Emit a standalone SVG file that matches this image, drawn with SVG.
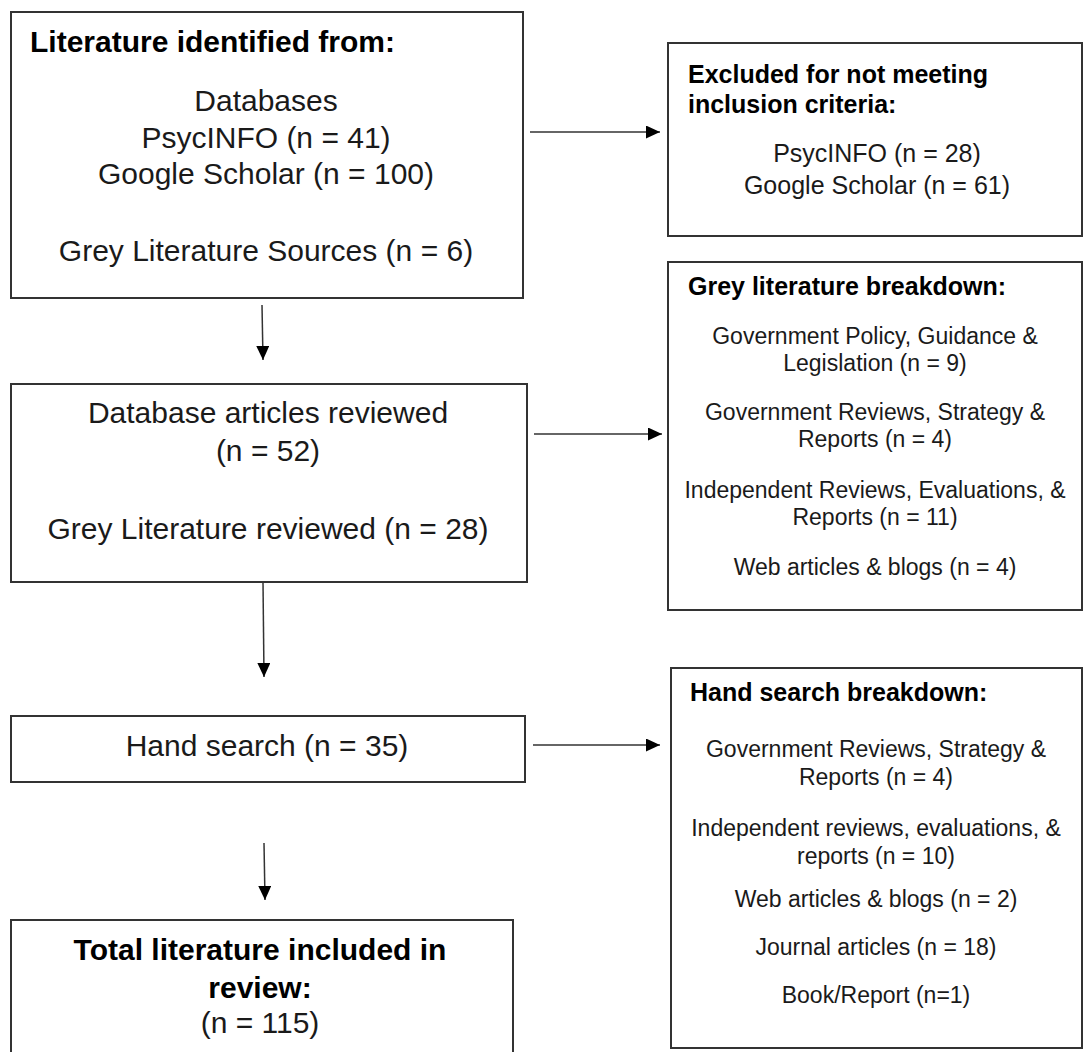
<svg xmlns="http://www.w3.org/2000/svg" width="1083" height="1052" viewBox="0 0 1083 1052">
<defs>
<style>
.box{fill:#fff;stroke:#333;stroke-width:2}
.t{font-family:"Liberation Sans",Arial,sans-serif;fill:#1a1a1a}
.b{font-weight:bold;fill:#000}
.c{text-anchor:middle}
.e{stroke:#333;stroke-width:1.5;fill:none}
</style>
<marker id="ah" viewBox="0 0 14 13" refX="14" refY="6.5" markerWidth="14" markerHeight="13" markerUnits="userSpaceOnUse" orient="auto">
<path d="M0,0 L14,6.5 L0,13 Z" fill="#000"/>
</marker>
</defs>
<rect width="1083" height="1052" fill="#fff"/>
<g id="connectors">
<line class="e" x1="530" y1="132" x2="660" y2="132" marker-end="url(#ah)"/>
<line class="e" x1="534" y1="434" x2="662" y2="434" marker-end="url(#ah)"/>
<line class="e" x1="533" y1="745" x2="660" y2="745" marker-end="url(#ah)"/>
<line class="e" x1="262" y1="305" x2="263" y2="360" marker-end="url(#ah)"/>
<line class="e" x1="263" y1="582" x2="264" y2="677" marker-end="url(#ah)"/>
<line class="e" x1="264" y1="843" x2="265" y2="900" marker-end="url(#ah)"/>
</g>
<g id="identified">
<rect class="box" x="11" y="12" width="512" height="286"/>
<text class="t b" x="30" y="52" font-size="30">Literature identified from:</text>
<text class="t c" x="266" y="111" font-size="30">Databases</text>
<text class="t c" x="266" y="148" font-size="30">PsycINFO (n = 41)</text>
<text class="t c" x="266" y="184" font-size="30">Google Scholar (n = 100)</text>
<text class="t c" x="266" y="261" font-size="30">Grey Literature Sources (n = 6)</text>
</g>
<g id="excluded">
<rect class="box" x="668" y="43" width="414" height="193"/>
<text class="t b" x="688" y="83" font-size="25">Excluded for not meeting</text>
<text class="t b" x="688" y="113" font-size="25">inclusion criteria:</text>
<text class="t c" x="877" y="162" font-size="25">PsycINFO (n = 28)</text>
<text class="t c" x="877" y="194" font-size="25">Google Scholar (n = 61)</text>
</g>
<g id="reviewed">
<rect class="box" x="11" y="384" width="516" height="198"/>
<text class="t c" x="268" y="423" font-size="30">Database articles reviewed</text>
<text class="t c" x="268" y="461" font-size="30">(n = 52)</text>
<text class="t c" x="268" y="539" font-size="30">Grey Literature reviewed (n = 28)</text>
</g>
<g id="grey">
<rect class="box" x="668" y="262" width="414" height="348"/>
<text class="t b" x="688" y="295" font-size="25">Grey literature breakdown:</text>
<text class="t c" x="875" y="344" font-size="23">Government Policy, Guidance &amp;</text>
<text class="t c" x="875" y="371" font-size="23">Legislation (n = 9)</text>
<text class="t c" x="875" y="420" font-size="23">Government Reviews, Strategy &amp;</text>
<text class="t c" x="875" y="447" font-size="23">Reports (n = 4)</text>
<text class="t c" x="875" y="498" font-size="23">Independent Reviews, Evaluations, &amp;</text>
<text class="t c" x="875" y="525" font-size="23">Reports (n = 11)</text>
<text class="t c" x="875" y="575" font-size="23">Web articles &amp; blogs (n = 4)</text>
</g>
<g id="hand">
<rect class="box" x="11" y="716" width="514" height="66"/>
<text class="t c" x="267" y="756" font-size="30">Hand search (n = 35)</text>
</g>
<g id="handbreakdown">
<rect class="box" x="671" y="668" width="411" height="380"/>
<text class="t b" x="690" y="701" font-size="25">Hand search breakdown:</text>
<text class="t c" x="876" y="757" font-size="23">Government Reviews, Strategy &amp;</text>
<text class="t c" x="876" y="785" font-size="23">Reports (n = 4)</text>
<text class="t c" x="876" y="836" font-size="23">Independent reviews, evaluations, &amp;</text>
<text class="t c" x="876" y="864" font-size="23">reports (n = 10)</text>
<text class="t c" x="876" y="907" font-size="23">Web articles &amp; blogs (n = 2)</text>
<text class="t c" x="876" y="955" font-size="23">Journal articles (n = 18)</text>
<text class="t c" x="876" y="1003" font-size="23">Book/Report (n=1)</text>
</g>
<g id="total">
<rect class="box" x="11" y="920" width="502" height="140"/>
<text class="t b c" x="260" y="960" font-size="30">Total literature included in</text>
<text class="t b c" x="260" y="998" font-size="30">review:</text>
<text class="t c" x="260" y="1033" font-size="30">(n = 115)</text>
</g>
</svg>
